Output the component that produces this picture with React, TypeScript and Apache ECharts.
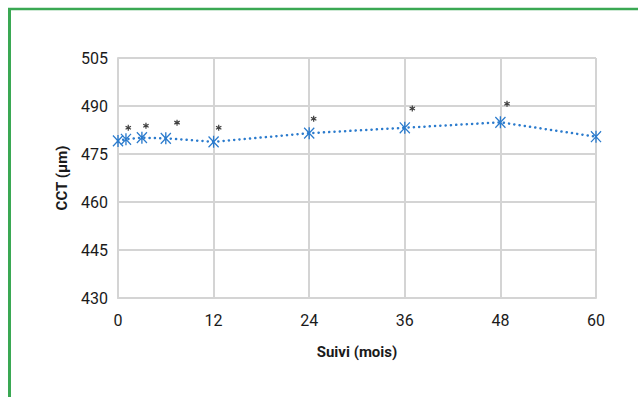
import React, { useEffect, useRef } from "react";
import * as echarts from "echarts";

// Follow-up months and mean CCT (µm)
const months = [0, 1, 3, 6, 12, 24, 36, 48, 60];
const cctValues = [479.1, 479.6, 480.1, 479.9, 478.8, 481.5, 483.2, 484.9, 480.4];

// Significance asterisks (position in axis units)
const starMonths = [1.29, 3.51, 7.41, 12.64, 24.56, 36.94, 48.83];
const starValues = [483.2, 483.8, 484.8, 483.2, 486.0, 489.2, 490.7];

const xTicks = { min: 0, max: 60, interval: 12 };
const yTicks = { min: 430, max: 505, interval: 15 };

const BLUE = "#2b7bcd";
const GREEN = "#3aa853";
const GRIDC = "#d4d4d4";
const FONT = "Roboto, 'DejaVu Sans', sans-serif";

const starMarker =
  "path://M4.4 0 L5.6 0 L5.6 10 L4.4 10 Z M0.1 0.9 L0.9 0.1 L9.9 9.1 L9.1 9.9 Z M9.1 0.1 L9.9 0.9 L0.9 9.9 L0.1 9.1 Z";
const asterisk =
  "path://M4 0 L6 0 L6 10 L4 10 Z M0.17 3.37 L1.17 1.63 L9.83 6.63 L8.83 8.37 Z M1.17 8.37 L0.17 6.63 L8.83 1.63 L9.83 3.37 Z";

export default function App() {
  const ref = useRef<HTMLDivElement>(null);
  useEffect(() => {
    if (!ref.current) return;
    const chart = echarts.init(ref.current, null, { renderer: "svg" });
    chart.setOption({
      animation: false,
      backgroundColor: "#ffffff",
      grid: { left: 118, right: 42, top: 58, bottom: 99, containLabel: false },
      graphic: [
        { type: "line", shape: { x1: 8, y1: 9, x2: 638, y2: 9 }, style: { stroke: GREEN, lineWidth: 2.5 }, z: 10 },
        { type: "line", shape: { x1: 9.5, y1: 8, x2: 9.5, y2: 397 }, style: { stroke: GREEN, lineWidth: 3 }, z: 10 },
      ],
      xAxis: {
        type: "value",
        min: xTicks.min,
        max: xTicks.max,
        interval: xTicks.interval,
        name: "Suivi (mois)",
        nameLocation: "middle",
        nameGap: 46,
        nameTextStyle: { fontFamily: FONT, fontSize: 15, fontWeight: "bold", color: "#1a1a1a" },
        axisLine: { show: true, lineStyle: { color: GRIDC, width: 2 } },
        axisTick: { show: false },
        axisLabel: { fontFamily: FONT, fontSize: 16, color: "#1a1a1a", margin: 14 },
        splitLine: { show: true, lineStyle: { color: GRIDC, width: 2 } },
      },
      yAxis: {
        type: "value",
        min: yTicks.min,
        max: yTicks.max,
        interval: yTicks.interval,
        name: "CCT (µm)",
        nameLocation: "middle",
        nameGap: 49,
        nameTextStyle: { fontFamily: FONT, fontSize: 15, fontWeight: "bold", color: "#1a1a1a" },
        axisLine: { show: true, lineStyle: { color: GRIDC, width: 2 } },
        axisTick: { show: false },
        axisLabel: { fontFamily: FONT, fontSize: 16, color: "#1a1a1a", margin: 10 },
        splitLine: { show: true, lineStyle: { color: GRIDC, width: 2 } },
      },
      series: [
        {
          type: "line",
          data: months.map((m, i) => [m, cctValues[i]]),
          symbol: starMarker,
          symbolSize: [11, 12],
          showAllSymbol: true,
          itemStyle: { color: BLUE },
          lineStyle: { color: BLUE, width: 2.5, type: [0.1, 5.2], cap: "round" },
          z: 3,
        },
        {
          type: "scatter",
          data: starMonths.map((m, i) => [m, starValues[i]]),
          symbol: asterisk,
          symbolSize: 6,
          itemStyle: { color: "#111111" },
          z: 4,
        },
      ],
    });
    return () => chart.dispose();
  }, []);
  return (
    <div
      ref={ref}
      style={{ position: "fixed", left: 0, top: 0, width: 638, height: 397 }}
    />
  );
}
